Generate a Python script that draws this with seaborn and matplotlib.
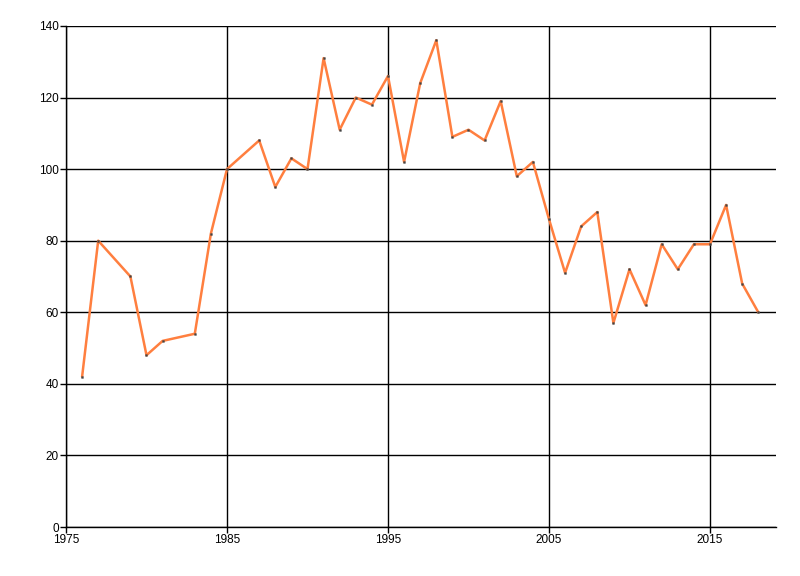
import matplotlib
matplotlib.use("Agg")
import matplotlib.pyplot as plt
import seaborn as sns
import pandas as pd

years = [1976, 1977, 1979, 1980, 1981, 1983, 1984, 1985, 1987, 1988, 1989, 1990,
         1991, 1992, 1993, 1994, 1995, 1996, 1997, 1998, 1999, 2000, 2001, 2002,
         2003, 2004, 2005, 2006, 2007, 2008, 2009, 2010, 2011, 2012, 2013, 2014,
         2015, 2016, 2017, 2018]
values = [42, 80, 70, 48, 52, 54, 82, 100, 108, 95, 103, 100,
          131, 111, 120, 118, 126, 102, 124, 136, 109, 111, 108, 119,
          98, 102, 86, 71, 84, 88, 57, 72, 62, 79, 72, 79,
          79, 90, 68, 60]
x_ticks = [1975, 1985, 1995, 2005, 2015]
y_ticks = [0, 20, 40, 60, 80, 100, 120, 140]

df = pd.DataFrame({"year": years, "value": values})

sns.set_style("white")
plt.rcParams['font.family'] = ['Liberation Sans', 'DejaVu Sans']

fig = plt.figure(figsize=(8, 5.76), dpi=100)
ax = fig.add_axes([0.0825, 0.085, 0.8875, 0.87])

sns.lineplot(data=df, x="year", y="value", ax=ax, color="#ff7f3f", linewidth=1.8,
             marker="s", markersize=1.3, markerfacecolor="#444444",
             markeredgecolor="#444444", markeredgewidth=0.3, zorder=3)

ax.set_xlim(1975, 2019.1)
ax.set_ylim(0, 140)
ax.set_xticks(x_ticks)
ax.set_yticks(y_ticks)
ax.grid(True, color="black", linewidth=1)
ax.set_axisbelow(True)
for s in ["top", "right"]:
    ax.spines[s].set_visible(False)
for s in ["left", "bottom"]:
    ax.spines[s].set_color("black")
    ax.spines[s].set_linewidth(1)
ax.tick_params(axis="both", direction="out", length=4, width=1, color="black",
               labelcolor="black", labelsize=8.5, pad=1, left=True, bottom=True)
ax.set_xlabel("")
ax.set_ylabel("")

fig.savefig("out.png", dpi=100)
